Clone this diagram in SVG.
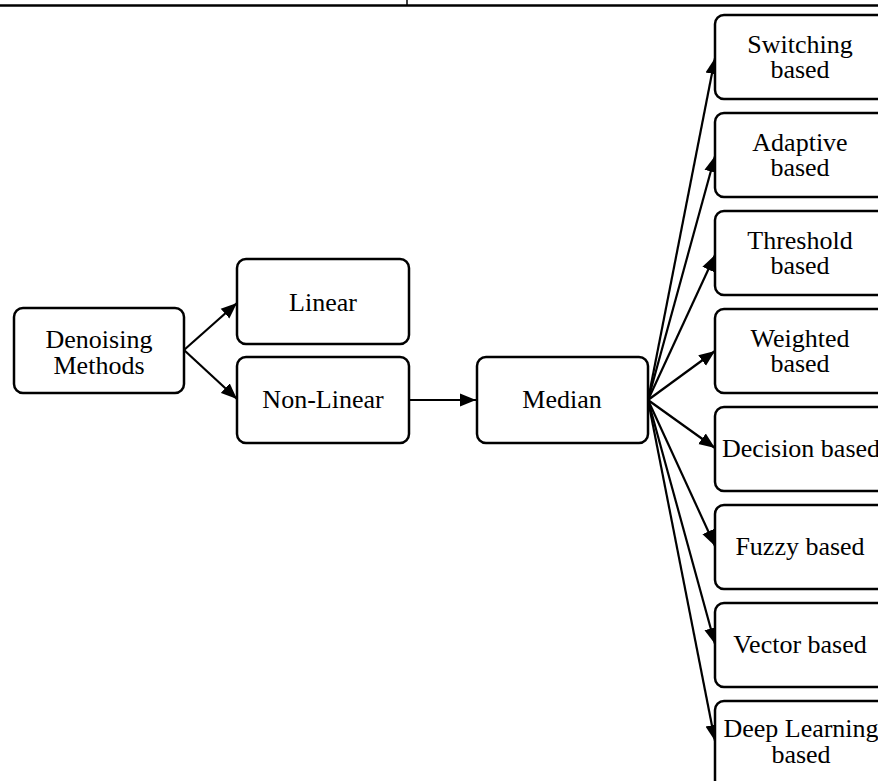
<svg xmlns="http://www.w3.org/2000/svg" width="878" height="781" viewBox="0 0 878 781">
<style>
.box{fill:#fff;stroke:#000;stroke-width:2.5}
.t{font-family:"Liberation Serif","Times New Roman",serif;font-size:26px;fill:#000;text-anchor:middle}
.c{stroke:#000;stroke-width:2.2;fill:none;marker-end:url(#ah)}
.rule{stroke:#000;fill:none}
</style>
<defs>
<marker id="ah" markerUnits="userSpaceOnUse" markerWidth="17" markerHeight="14" refX="16" refY="7" orient="auto">
<path d="M0,0.5 L16,7 L0,13.5 Z" fill="#000"/>
</marker>
</defs>
<rect width="878" height="781" fill="#fff"/>
<g id="table-rule">
<line class="rule" x1="0" y1="5.5" x2="878" y2="5.5" stroke-width="2.4"/>
<line class="rule" x1="407" y1="0" x2="407" y2="5" stroke-width="1.5"/>
</g>
<g id="connectors">
<line class="c" x1="184" y1="350" x2="237" y2="303"/>
<line class="c" x1="184" y1="350" x2="237" y2="399"/>
<line class="c" x1="409" y1="400" x2="476" y2="400"/>
<line class="c" x1="648" y1="400" x2="715" y2="58"/>
<line class="c" x1="648" y1="400" x2="715" y2="156"/>
<line class="c" x1="648" y1="400" x2="715" y2="255"/>
<line class="c" x1="648" y1="400" x2="715" y2="351"/>
<line class="c" x1="648" y1="400" x2="715" y2="448"/>
<line class="c" x1="648" y1="400" x2="715" y2="546"/>
<line class="c" x1="648" y1="400" x2="715" y2="644"/>
<line class="c" x1="648" y1="400" x2="715" y2="741"/>
</g>
<g id="denoising">
<rect class="box" x="14" y="308" width="170" height="85" rx="9"/>
<text class="t" x="99" y="348">Denoising</text>
<text class="t" x="99" y="374">Methods</text>
</g>
<g id="linear">
<rect class="box" x="237" y="259" width="172" height="85" rx="9"/>
<text class="t" x="323" y="311">Linear</text>
</g>
<g id="nonlinear">
<rect class="box" x="237" y="357" width="172" height="86" rx="9"/>
<text class="t" x="323" y="408">Non-Linear</text>
</g>
<g id="median">
<rect class="box" x="477" y="357" width="171" height="86" rx="9"/>
<text class="t" x="562" y="408">Median</text>
</g>
<g id="switching">
<rect class="box" x="715" y="15" width="172" height="84" rx="9"/>
<text class="t" x="800" y="53">Switching</text>
<text class="t" x="800" y="78">based</text>
</g>
<g id="adaptive">
<rect class="box" x="715" y="113" width="172" height="84" rx="9"/>
<text class="t" x="800" y="151">Adaptive</text>
<text class="t" x="800" y="176">based</text>
</g>
<g id="threshold">
<rect class="box" x="715" y="211" width="172" height="84" rx="9"/>
<text class="t" x="800" y="249">Threshold</text>
<text class="t" x="800" y="274">based</text>
</g>
<g id="weighted">
<rect class="box" x="715" y="309" width="172" height="84" rx="9"/>
<text class="t" x="800" y="347">Weighted</text>
<text class="t" x="800" y="372">based</text>
</g>
<g id="decision">
<rect class="box" x="715" y="407" width="172" height="84" rx="9"/>
<text class="t" x="801" y="457">Decision based</text>
</g>
<g id="fuzzy">
<rect class="box" x="715" y="505" width="172" height="84" rx="9"/>
<text class="t" x="800" y="555">Fuzzy based</text>
</g>
<g id="vector">
<rect class="box" x="715" y="603" width="172" height="84" rx="9"/>
<text class="t" x="800" y="653">Vector based</text>
</g>
<g id="deeplearning">
<rect class="box" x="715" y="701" width="172" height="88" rx="9"/>
<text class="t" x="801" y="737">Deep Learning</text>
<text class="t" x="801" y="763">based</text>
</g>
</svg>
